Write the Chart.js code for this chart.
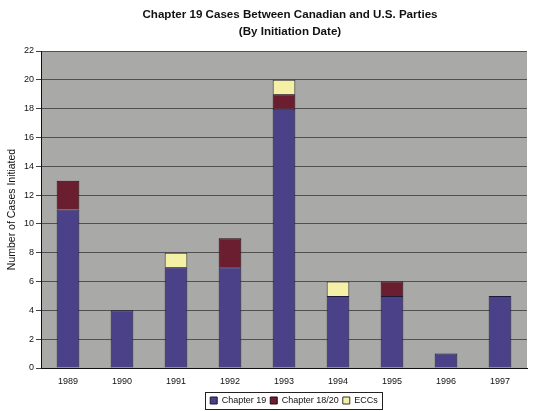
<!DOCTYPE html>
<html>
<head>
<meta charset="utf-8">
<script src="https://cdn.jsdelivr.net/npm/chart.js@4.4.0/dist/chart.umd.min.js"></script>
<style>
  html, body { margin: 0; padding: 0; background: #fff; }
  #wrap { width: 538px; height: 411px; position: relative; }
</style>
</head>
<body>
<div id="wrap"><canvas id="grafico"></canvas></div>
<script>
// dados
const anos = ["1989", "1990", "1991", "1992", "1993", "1994", "1995", "1996", "1997"];
const capitulo19 = [11, 4, 7, 7, 18, 5, 5, 1, 5];
const capitulo1820 = [2, 0, 0, 2, 1, 0, 1, 0, 0];
const eccs = [0, 0, 1, 0, 1, 1, 0, 0, 0];
const ticksY = [0, 2, 4, 6, 8, 10, 12, 14, 16, 18, 20, 22];

const titulo = ["Chapter 19 Cases Between Canadian and U.S. Parties", "(By Initiation Date)"];
const fonte = "'Liberation Sans', Arial, sans-serif";

// fundo cinza, titulo, posicao e moldura da legenda
const pluginFundo = {
    id: "fundo",
    afterLayout(chart) {
        const lg = chart.legend;
        // centraliza a legenda sob a area do grafico e desce um pouco
        const dx = 28;
        lg.left += dx;
        lg.right += dx;
        const h = lg.bottom - lg.top;
        lg.top = 392;
        lg.bottom = lg.top + h;
    },
    beforeDraw(chart) {
        const { ctx, chartArea: a } = chart;
        ctx.save();
        ctx.fillStyle = "#a9a9a7";
        ctx.fillRect(a.left, a.top, a.right - a.left, a.bottom - a.top);
        ctx.restore();
    },
    afterDraw(chart) {
        const { ctx } = chart;
        ctx.save();
        ctx.fillStyle = "#111";
        ctx.font = "bold 11.6px " + fonte;
        ctx.textAlign = "center";
        ctx.textBaseline = "middle";
        ctx.fillText(titulo[0], 290, 15);
        ctx.fillText(titulo[1], 290, 32);
        // moldura so em volta dos itens
        const caixas = chart.legend.legendHitBoxes;
        if (caixas && caixas.length) {
            const x0 = Math.min(...caixas.map(c => c.left)) - 5;
            const x1 = Math.max(...caixas.map(c => c.left + c.width)) + 4;
            const y0 = Math.min(...caixas.map(c => c.top)) - 4;
            const y1 = Math.max(...caixas.map(c => c.top + c.height)) + 4;
            ctx.strokeStyle = "#222";
            ctx.lineWidth = 1;
            ctx.strokeRect(Math.round(x0) + 0.5, Math.round(y0) + 0.5, Math.round(x1 - x0), Math.round(y1 - y0));
        }
        ctx.restore();
    }
};

const ctx = document.getElementById("grafico").getContext("2d");
new Chart(ctx, {
    type: "bar",
    data: {
        labels: anos,
        datasets: [
            {
                label: "Chapter 19",
                data: capitulo19,
                backgroundColor: "#4b4189",
                borderColor: "#1d1a3a",
                borderWidth: 1
            },
            {
                label: "Chapter 18/20",
                data: capitulo1820,
                backgroundColor: "#6b1e30",
                borderColor: "#2a0a10",
                borderWidth: 1
            },
            {
                label: "ECCs",
                data: eccs,
                backgroundColor: "#f4f0a6",
                borderColor: "#333",
                borderWidth: 1
            }
        ]
    },
    options: {
        responsive: true,
        maintainAspectRatio: false,
        animation: false,
        layout: { padding: { top: 51, left: 5, right: 11, bottom: 0 } },
        datasets: { bar: { barPercentage: 0.42, categoryPercentage: 1 } },
        plugins: {
            title: { display: false },
            tooltip: { enabled: false },
            legend: {
                display: true,
                position: "bottom",
                labels: {
                    font: { family: fonte, size: 9 },
                    color: "#111",
                    boxWidth: 7,
                    boxHeight: 7,
                    padding: 4
                }
            }
        },
        scales: {
            x: {
                stacked: true,
                grid: { display: false, drawTicks: false },
                border: { color: "#111", width: 1 },
                ticks: { font: { family: fonte, size: 9 }, color: "#111", padding: 8 },
                afterFit(s) { s.height = 20; }
            },
            y: {
                stacked: true,
                min: 0,
                max: 22,
                afterBuildTicks(s) { s.ticks = ticksY.map(v => ({ value: v })); },
                grid: { color: "#3a3a3a", lineWidth: 0.8, tickLength: 5, tickColor: "#111" },
                border: { color: "#111", width: 1 },
                ticks: { font: { family: fonte, size: 9 }, color: "#111", padding: 2 },
                title: {
                    display: true,
                    text: "Number of Cases Initiated",
                    font: { family: fonte, size: 10.5 },
                    color: "#111",
                    padding: 1
                },
                afterFit(s) { s.width = 36; }
            }
        }
    },
    plugins: [pluginFundo]
});
</script>
</body>
</html>
